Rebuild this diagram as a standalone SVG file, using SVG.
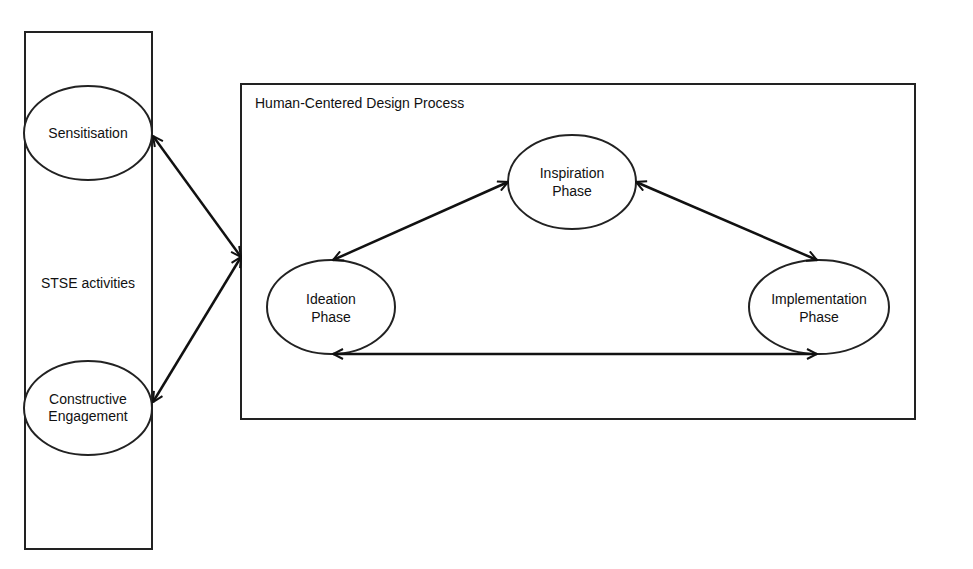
<svg xmlns="http://www.w3.org/2000/svg" width="973" height="569" viewBox="0 0 973 569">
<style>
.b{fill:none;stroke:#222;stroke-width:2}
.e{fill:#fff;stroke:#222;stroke-width:2}
.c{fill:none;stroke:#111;stroke-width:2.5}
text{font-family:"Liberation Sans",Arial,sans-serif;font-size:14px;fill:#111}
.m{text-anchor:middle}
</style>
<defs>
<marker id="a" viewBox="0 0 12 12" refX="11" refY="6" markerWidth="12" markerHeight="12" markerUnits="userSpaceOnUse" orient="auto-start-reverse">
<path d="M1,1 L11,6 L1,11" fill="none" stroke="#111" stroke-width="2"/>
</marker>
</defs>
<rect width="973" height="569" fill="#fff"/>
<g id="stse">
<rect class="b" x="25" y="32" width="127" height="517"/>
<text class="m" x="88" y="288">STSE activities</text>
</g>
<g id="sensitisation">
<ellipse class="e" cx="88" cy="133" rx="64" ry="47"/>
<text class="m" x="88" y="138">Sensitisation</text>
</g>
<g id="constructive">
<ellipse class="e" cx="88" cy="408" rx="64" ry="47"/>
<text class="m" x="88" y="404">Constructive</text>
<text class="m" x="88" y="421">Engagement</text>
</g>
<g id="hcd">
<rect class="b" x="241" y="84" width="674" height="335"/>
<text x="255" y="108">Human-Centered Design Process</text>
</g>
<g id="inspiration">
<ellipse class="e" cx="572" cy="182" rx="64" ry="47"/>
<text class="m" x="572" y="178">Inspiration</text>
<text class="m" x="572" y="196">Phase</text>
</g>
<g id="ideation">
<ellipse class="e" cx="331" cy="307" rx="64" ry="47"/>
<text class="m" x="331" y="304">Ideation</text>
<text class="m" x="331" y="322">Phase</text>
</g>
<g id="implementation">
<ellipse class="e" cx="819" cy="307" rx="70" ry="47"/>
<text class="m" x="819" y="304">Implementation</text>
<text class="m" x="819" y="322">Phase</text>
</g>
<g id="connectors" class="c">
<line x1="153" y1="136" x2="241" y2="257" marker-start="url(#a)" marker-end="url(#a)"/>
<line x1="153" y1="402" x2="241" y2="257" marker-start="url(#a)" marker-end="url(#a)"/>
<line x1="333" y1="260" x2="508" y2="182" marker-start="url(#a)" marker-end="url(#a)"/>
<line x1="636" y1="182" x2="817" y2="260" marker-start="url(#a)" marker-end="url(#a)"/>
<line x1="333" y1="354" x2="817" y2="354" marker-start="url(#a)" marker-end="url(#a)"/>
</g>
</svg>
